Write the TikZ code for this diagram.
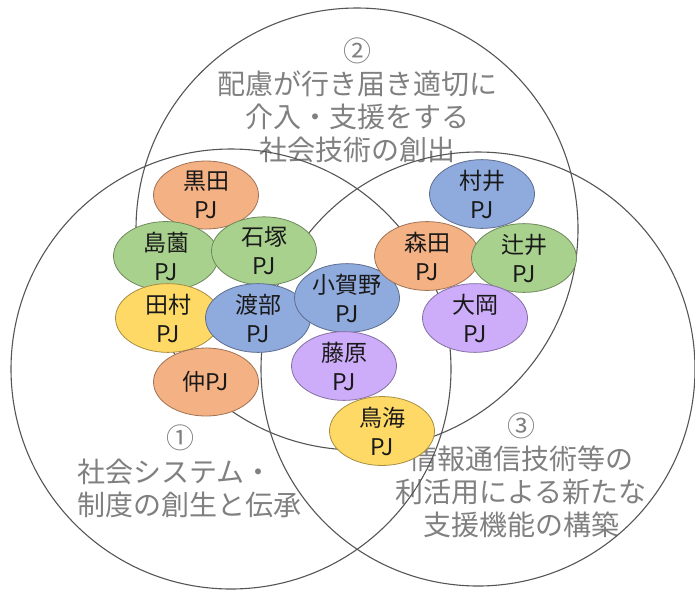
\documentclass[tikz,border=0pt]{standalone}
\usepackage{fontspec}
\newfontfamily\jp{Noto Sans CJK JP}
\usetikzlibrary{shapes.geometric}
\definecolor{pjorange}{RGB}{244,177,131}
\definecolor{pjgreen}{RGB}{169,209,142}
\definecolor{pjyellow}{RGB}{255,217,102}
\definecolor{pjblue}{RGB}{143,170,220}
\definecolor{pjpurple}{RGB}{205,172,250}
\definecolor{linegrey}{RGB}{85,85,85}
\definecolor{textgrey}{RGB}{128,128,128}
\begin{document}
\begin{tikzpicture}[x=1pt,y=-1pt,
  bigc/.style={circle, draw=linegrey, line width=1.1pt, minimum size=#1, inner sep=0pt},
  circtext/.style={font=\jp\fontsize{28}{33}\selectfont, text=textgrey, inner sep=0pt},
  pj/.style={ellipse, fill=#1, draw=#1!65!black, line width=0.8pt,
    minimum width=105pt, minimum height=68pt, inner sep=0pt, align=center,
    font=\jp\fontsize{23}{29}\selectfont, text=black!90}
]
\useasboundingbox (0,0) rectangle (695,590);
% circle texts
\node[circtext, align=center] (t2) at (357,100) {②\\配慮が行き届き適切に\\介入・支援をする\\社会技術の創出};
\node[circtext] (n1) at (180,438) {①};
\node[circtext, align=left, anchor=west] (t1) at (77,488) {社会システム・\\制度の創生と伝承};
\node[circtext, align=center] (t3) at (521,475) {③\\情報通信技術等の\\利活用による新たな\\支援機能の構築};
% big circles
\node[bigc=440pt] (c1) at (231,369) {};
\node[bigc=442pt] (c2) at (357,229) {};
\node[bigc=434pt] (c3) at (478,369) {};
% projects
\node[pj=pjorange] (kuroda) at (206,195) {黒田\\PJ};
\node[pj=pjgreen] (shimazono) at (166,256) {島薗\\PJ};
\node[pj=pjgreen] (ishizuka) at (264,251) {石塚\\PJ};
\node[pj=pjyellow] (tamura) at (168,318) {田村\\PJ};
\node[pj=pjblue] (watabe) at (258,318) {渡部\\PJ};
\node[pj=pjblue] (kogano) at (347,298) {小賀野\\PJ};
\node[pj=pjpurple] (fujiwara) at (344,366) {藤原\\PJ};
\node[pj=pjorange] (naka) at (206,382) {仲PJ};
\node[pj=pjyellow] (toriumi) at (382,431) {鳥海\\PJ};
\node[pj=pjblue] (murai) at (482,194) {村井\\PJ};
\node[pj=pjorange] (morita) at (427,256) {森田\\PJ};
\node[pj=pjgreen] (tsujii) at (524,258) {辻井\\PJ};
\node[pj=pjpurple] (ooka) at (475,318) {大岡\\PJ};
\end{tikzpicture}
\end{document}
